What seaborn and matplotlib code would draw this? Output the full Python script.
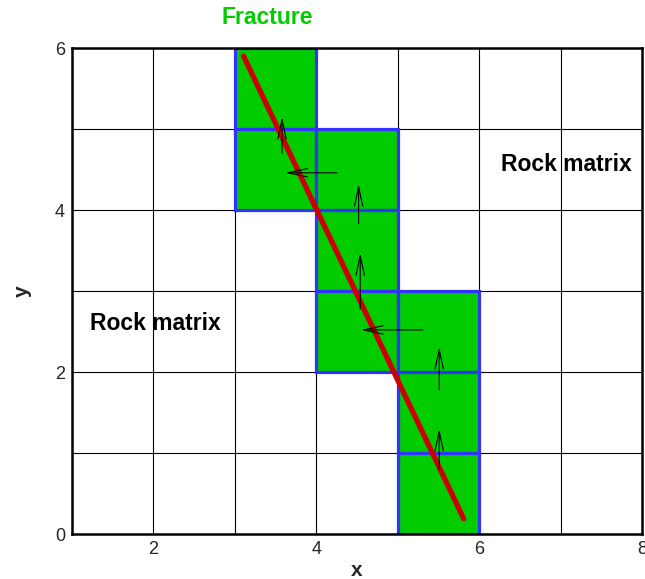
import matplotlib
matplotlib.use("Agg")
import matplotlib.pyplot as plt
import seaborn as sns
import pandas as pd
from matplotlib.patches import Rectangle

sns.set_style("white")
plt.rcParams['font.family'] = ['Liberation Sans', 'DejaVu Sans']

# Fracture cells (lower-left corners, unit size)
cell_x = [3, 3, 4, 4, 4, 5, 5, 5]
cell_y = [5, 4, 4, 3, 2, 2, 1, 0]

# Fracture line
line_x = [3.107, 5.81]
line_y = [5.90, 0.19]

# Flux arrows (tail -> head)
arr_x0 = [3.58, 4.26, 4.52, 4.54, 5.31, 5.51, 5.51]
arr_y0 = [4.70, 4.46, 3.83, 2.78, 2.52, 1.78, 0.79]
arr_x1 = [3.58, 3.62, 4.52, 4.54, 4.55, 5.51, 5.51]
arr_y1 = [5.15, 4.46, 4.32, 3.47, 2.52, 2.31, 1.30]

x_ticks = [2, 4, 6, 8]
y_ticks = [0, 2, 4, 6]

fig = plt.figure(figsize=(6.45, 5.79), dpi=100)
ax = fig.add_axes([0.1116, 0.0777, 0.8837, 0.8393])
ax.set_xlim(1, 8)
ax.set_ylim(0, 6)

# grid every unit
for gx in range(2, 8):
    ax.axvline(gx, color='black', lw=0.8, zorder=1)
for gy in range(1, 6):
    ax.axhline(gy, color='black', lw=0.8, zorder=1)

for cx, cy in zip(cell_x, cell_y):
    ax.add_patch(Rectangle((cx, cy), 1, 1, facecolor='#00CC00',
                           edgecolor='#3333FF', lw=2.3, zorder=2))

df = pd.DataFrame({'x': line_x, 'y': line_y})
sns.lineplot(data=df, x='x', y='y', color='#CC0000', lw=3.8, ax=ax,
             zorder=4, solid_capstyle='round', sort=False)

for x0, y0, x1, y1 in zip(arr_x0, arr_y0, arr_x1, arr_y1):
    ax.annotate('', xy=(x1, y1), xytext=(x0, y0),
                arrowprops=dict(arrowstyle='->,head_length=1.4,head_width=0.3',
                                color='black', lw=0.8, shrinkA=0, shrinkB=0),
                zorder=5)

ax.text(3.40, 6.38, 'Fracture', color='#00CC00', fontsize=16.5,
        fontweight='bold', ha='center', va='center', clip_on=False)
ax.text(7.07, 4.56, 'Rock matrix', color='black', fontsize=16.5,
        fontweight='bold', ha='center', va='center')
ax.text(2.02, 2.60, 'Rock matrix', color='black', fontsize=16.5,
        fontweight='bold', ha='center', va='center')

ax.set_xticks(x_ticks)
ax.set_yticks(y_ticks)
ax.set_xticklabels([str(t) for t in x_ticks], fontsize=13)
ax.set_yticklabels([str(t) for t in y_ticks], fontsize=13)
ax.tick_params(direction='in', length=9, width=1.5, pad=5)
ax.set_xlabel('x', fontsize=15, fontweight='bold', labelpad=2)
ax.set_ylabel('y', fontsize=15, fontweight='bold', labelpad=17)
for s in ax.spines.values():
    s.set_color('black')
    s.set_linewidth(1.8)
    s.set_zorder(6)
ax.set_axisbelow(False)

fig.savefig('out.png', dpi=100)
